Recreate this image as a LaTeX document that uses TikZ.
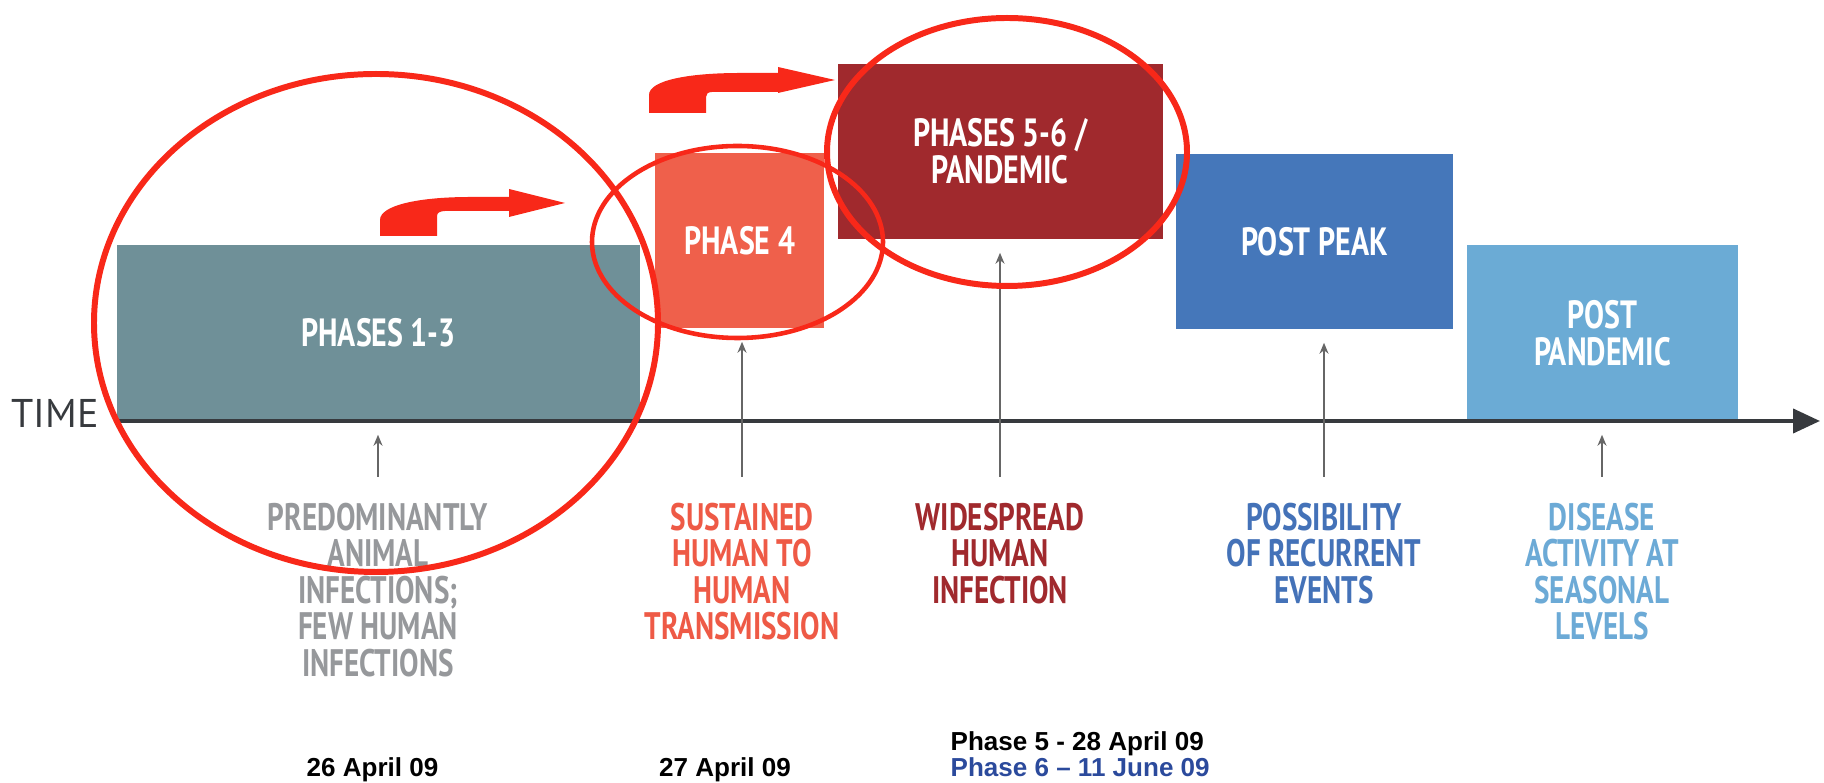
\documentclass[tikz,border=0pt]{standalone}
\usepackage{fontspec}
\usetikzlibrary{arrows.meta}
\newfontfamily\condfont[FakeStretch=0.76]{PT Sans}
\newfontfamily\plainfont{PT Sans}
\newfontfamily\datefont{Liberation Sans}
\definecolor{greybox}{RGB}{111,144,152}
\definecolor{salmonbox}{RGB}{239,96,75}
\definecolor{darkredbox}{RGB}{160,41,45}
\definecolor{bluebox}{RGB}{69,119,186}
\definecolor{lightbluebox}{RGB}{107,171,213}
\definecolor{greytext}{RGB}{150,152,155}
\definecolor{salmontext}{RGB}{238,90,70}
\definecolor{bluetext}{RGB}{68,114,184}
\definecolor{lightbluetext}{RGB}{108,170,214}
\definecolor{redmark}{RGB}{248,40,25}
\definecolor{phaseblue}{RGB}{43,74,156}
\definecolor{axisgrey}{RGB}{55,58,62}

\begin{document}
\begin{tikzpicture}[x=0.01cm, y=-0.01cm]
    \tikzstyle{phase}=[inner sep=0pt, minimum height=1.75cm, text=white, align=center, font=\condfont\bfseries\fontsize{11.2}{10.5}\selectfont]
    \tikzstyle{descr}=[anchor=north, inner sep=0pt, align=center, font=\condfont\bfseries\fontsize{10.9}{10.4}\selectfont]
    \tikzstyle{pointer}=[-{Stealth[length=1.1mm, width=0.9mm]}, draw=black!60, line width=0.45pt, shorten <=0.25cm, shorten >=0.13cm]
    \tikzstyle{axis}=[draw=axisgrey, line width=1.15pt, -{Triangle[length=0.27cm, width=0.24cm]}]
    \tikzstyle{date}=[inner sep=0pt, font=\datefont\bfseries\fontsize{7.4}{9}\selectfont]
    \tikzstyle{ring}=[draw=redmark, line width=1.7pt]

    \useasboundingbox (0,0) rectangle (1824,783);

    \node[phase, fill=greybox, minimum width=5.23cm, minimum height=1.76cm] (B-1) at (378.5,333) {PHASES 1-3};
    \node[phase, fill=salmonbox, minimum width=1.685cm] (B-2) at (739.75,240.5) {PHASE 4};
    \node[phase, fill=darkredbox, minimum width=3.245cm] (B-3) at (1000.25,151.5) {PHASES 5-6 /\\PANDEMIC};
    \node[phase, fill=bluebox, minimum width=2.77cm] (B-4) at (1314.5,241.5) {POST PEAK};
    \node[phase, fill=lightbluebox, minimum width=2.71cm, minimum height=1.76cm] (B-5) at (1602.5,333) {POST\\PANDEMIC};

    % the time line
    \coordinate (T-0) at (117,421);
    \coordinate (T-1) at (1820,421);
    \draw[axis] (T-0) -- (T-1);
    \node[anchor=west, inner sep=0pt, text=axisgrey, font=\plainfont\fontsize{11.4}{12}\selectfont] (time) at (11,413) {TIME};

    \node[descr, text=greytext] (L-1) at (378,502) {PREDOMINANTLY\\ANIMAL\\INFECTIONS;\\FEW HUMAN\\INFECTIONS};
    \node[descr, text=salmontext] (L-2) at (742,502) {SUSTAINED\\HUMAN TO\\HUMAN\\TRANSMISSION};
    \node[descr, text=darkredbox] (L-3) at (1000,502) {WIDESPREAD\\HUMAN\\INFECTION};
    \node[descr, text=bluetext] (L-4) at (1324,502) {POSSIBILITY\\OF RECURRENT\\EVENTS};
    \node[descr, text=lightbluetext] (L-5) at (1602,502) {DISEASE\\ACTIVITY AT\\SEASONAL\\LEVELS};

    \foreach \i in {1,...,5}
        \draw[pointer] (L-\i.north) -- (L-\i.north |- B-\i.south);

    % dates
    \node[date, anchor=base] (D-1) at (372.5,777) {26 April 09};
    \node[date, anchor=base] (D-2) at (725,777) {27 April 09};
    \node[date, anchor=base west] (D-3) at (950,751) {Phase 5 - 28 April 09};
    \node[date, anchor=base west, text=phaseblue] (D-4) at (950,777) {Phase 6 \textendash{} 11 June 09};

    % red marks
    \fill[redmark] (380,236) -- (380,220) .. controls (380,205) and (420,197) .. (470,197) -- (509,197) -- (509,189) -- (565,203) -- (509,217) -- (509,211) -- (445,211) .. controls (440,211) and (437,213) .. (437,216) -- (437,236) -- cycle;
    \fill[redmark] (649,113) -- (649,95) .. controls (649,80) and (690,73) .. (740,73) -- (778,73) -- (778,67) -- (835,80) -- (778,93) -- (778,92) -- (712,92) .. controls (708,92) and (706,94) .. (706,97) -- (706,113) -- cycle;

    \draw[ring] (376,323) ellipse [x radius=282, y radius=249];
    \draw[ring, line width=1.3pt] (737.5,242) ellipse [x radius=145.5, y radius=96];
    \draw[ring] (1007,152) ellipse [x radius=180, y radius=134];
\end{tikzpicture}
\end{document}
